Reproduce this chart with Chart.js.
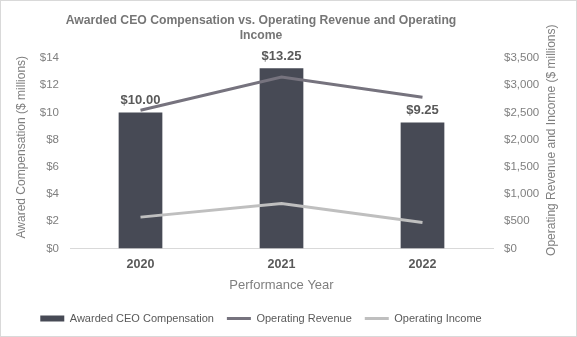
<!DOCTYPE html>
<html><head><meta charset="utf-8">
<script src="https://cdn.jsdelivr.net/npm/chart.js@4/dist/chart.umd.min.js"></script>
<style>html,body{margin:0;padding:0;background:#fff;}#wrap{width:577px;height:337px;position:relative;}canvas{display:block;}</style>
</head><body><div id="wrap"><canvas id="c" width="577" height="337"></canvas></div>
<script>
const years = ['2020', '2021', '2022'];
const ceoCompensation = [10.00, 13.25, 9.25];
const operatingRevenue = [2540, 3150, 2780];
const operatingIncome = [575, 825, 475];
const titleLines = ['Awarded CEO Compensation vs. Operating Revenue and Operating', 'Income'];
const leftAxisTitle = 'Awared Compensation ($ millions)';
const rightAxisTitle = 'Operating Revenue and Income ($ millions)';
const xAxisTitle = 'Performance Year';

const FONT = "'Liberation Sans', Arial, sans-serif";

function drawVerticalTitle(ctx, text, x, y) {
  ctx.save();
  ctx.translate(x, y);
  ctx.rotate(-Math.PI / 2);
  ctx.font = "12px " + FONT;
  ctx.fillStyle = '#7f7f7f';
  ctx.textAlign = 'center';
  ctx.textBaseline = 'middle';
  ctx.fillText(text, 0, 0);
  ctx.restore();
}

const frame = {
  id: 'frame',
  beforeDraw(chart) {
    const ctx = chart.ctx;
    ctx.save();
    ctx.fillStyle = '#ffffff';
    ctx.fillRect(0, 0, chart.width, chart.height);
    ctx.restore();
  },
  afterDraw(chart) {
    const ctx = chart.ctx;
    ctx.save();
    ctx.strokeStyle = '#d9d9d9';
    ctx.lineWidth = 1;
    ctx.strokeRect(0.5, 0.5, chart.width - 1, chart.height - 1);
    ctx.restore();
    // axis titles, reading bottom-to-top on both sides
    const a = chart.chartArea;
    const mid = (a.top + a.bottom) / 2;
    drawVerticalTitle(ctx, leftAxisTitle, 22, mid - 6);
    drawVerticalTitle(ctx, rightAxisTitle, 552, mid - 13);
  }
};

const barLabels = {
  id: 'barLabels',
  afterDatasetsDraw(chart) {
    const ctx = chart.ctx;
    const meta = chart.getDatasetMeta(0);
    ctx.save();
    ctx.font = "bold 13px " + FONT;
    ctx.fillStyle = '#595959';
    ctx.textAlign = 'center';
    ctx.textBaseline = 'middle';
    meta.data.forEach((el, i) => {
      ctx.fillText('$' + ceoCompensation[i].toFixed(2), el.x, el.y - 12);
    });
    ctx.restore();
  }
};

new Chart(document.getElementById('c'), {
  data: {
    labels: years,
    datasets: [
      {
        type: 'bar', label: 'Awarded CEO Compensation', data: ceoCompensation,
        backgroundColor: '#474a55', yAxisID: 'y', order: 3,
        barPercentage: 0.31, categoryPercentage: 1.0
      },
      {
        type: 'line', label: 'Operating Revenue', data: operatingRevenue,
        borderColor: '#76737e', backgroundColor: '#76737e', borderWidth: 3,
        pointRadius: 0, yAxisID: 'y1', order: 1, tension: 0
      },
      {
        type: 'line', label: 'Operating Income', data: operatingIncome,
        borderColor: '#bfbfbf', backgroundColor: '#bfbfbf', borderWidth: 3,
        pointRadius: 0, yAxisID: 'y1', order: 2, tension: 0
      }
    ]
  },
  options: {
    responsive: false,
    animation: false,
    devicePixelRatio: 1,
    layout: { padding: { left: -23, right: 32, top: 7, bottom: 3 } },
    plugins: {
      tooltip: { enabled: false },
      title: {
        display: true, text: titleLines, color: '#767676',
        font: { family: FONT, size: 12.2, weight: 'bold', lineHeight: 1.23 },
        padding: { top: 6, bottom: 15 }
      },
      legend: {
        position: 'bottom',
        labels: {
          sort: (a, b) => a.datasetIndex - b.datasetIndex,
          usePointStyle: true, pointStyleWidth: 24, boxHeight: 6,
          color: '#595959', font: { family: FONT, size: 11 }, padding: 13,
          generateLabels(chart) {
            const items = Chart.defaults.plugins.legend.labels.generateLabels(chart);
            items.forEach(it => {
              if (it.datasetIndex === 0) { it.pointStyle = 'rect'; it.lineWidth = 0; }
              else { it.pointStyle = 'line'; it.lineWidth = 3; }
            });
            return items;
          }
        }
      }
    },
    scales: {
      x: {
        grid: { display: false },
        border: { display: true, color: '#d9d9d9' },
        ticks: { padding: 1, color: '#595959', font: { family: FONT, size: 12.5, weight: 'bold' } },
        title: { display: true, text: xAxisTitle, color: '#7f7f7f', font: { family: FONT, size: 13 }, padding: { top: 4.5, bottom: 6.5 } }
      },
      y: {
        position: 'left', min: 0, max: 14,
        grid: { display: false }, border: { display: false },
        ticks: { stepSize: 2, color: '#7f7f7f', font: { family: FONT, size: 11.5 }, callback: v => '$' + v },
        afterFit(s) { s.width = 93; }
      },
      y1: {
        position: 'right', min: 0, max: 3500,
        grid: { display: false }, border: { display: false },
        ticks: { stepSize: 500, color: '#7f7f7f', font: { family: FONT, size: 11.5 }, callback: v => '$' + v.toLocaleString('en-US') },
        afterFit(s) { s.width = 52; }
      }
    }
  },
  plugins: [frame, barLabels]
});
</script>
</body></html>
